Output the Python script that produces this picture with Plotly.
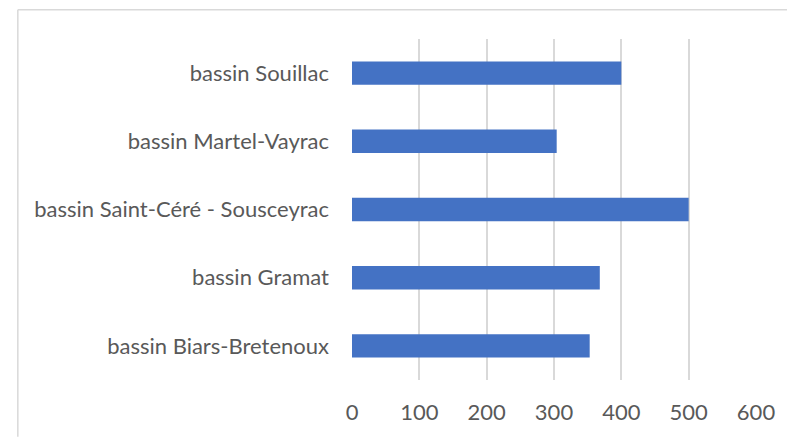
import plotly.graph_objects as go

# Catégories (de bas en haut) et effectifs par bassin
bassins = [
    "bassin Biars-Bretenoux",
    "bassin Gramat",
    "bassin Saint-Céré - Sousceyrac",
    "bassin Martel-Vayrac",
    "bassin Souillac",
]
valeurs = [353, 368, 500, 304, 400]
x_ticks = [0, 100, 200, 300, 400, 500, 600]

W, H = 787, 437
ML, MR, MT, MB = 352, 30, 39, 55

fig = go.Figure(
    go.Bar(
        x=valeurs,
        y=bassins,
        orientation="h",
        marker=dict(color="#4472C4", line=dict(width=0)),
        hoverinfo="x+y",
    )
)

font_family = "Lato, 'Open Sans', sans-serif"

fig.update_layout(
    width=W,
    height=H,
    margin=dict(l=ML, r=MR, t=MT, b=MB, pad=0),
    paper_bgcolor="white",
    plot_bgcolor="white",
    bargap=0.657,
    showlegend=False,
    font=dict(family=font_family, size=22, color="#595959"),
    xaxis=dict(
        range=[0, 600],
        tickvals=x_ticks,
        ticktext=[str(v) for v in x_ticks],
        showgrid=True,
        gridcolor="#d9d9d9",
        gridwidth=1.5,
        zeroline=False,
        showline=False,
        ticks="",
        ticklabelstandoff=17,
        fixedrange=True,
    ),
    yaxis=dict(
        showgrid=False,
        zeroline=False,
        showline=False,
        ticks="",
        ticklabelstandoff=22,
        fixedrange=True,
    ),
)

# Cadre du graphique (bords haut et gauche visibles)
pw = W - ML - MR
ph = H - MT - MB
x_left = (17 - ML) / pw
y_top = (H - MB - 9.5) / ph
y_bottom = (H - MB - H - 2) / ph
x_right = (W + 2 - ML) / pw
fig.add_shape(type="line", xref="paper", yref="paper",
              x0=x_left, x1=x_right, y0=y_top, y1=y_top,
              line=dict(color="#d9d9d9", width=1.5))
fig.add_shape(type="line", xref="paper", yref="paper",
              x0=x_left, x1=x_left, y0=y_bottom, y1=y_top,
              line=dict(color="#d9d9d9", width=1.5))

fig.write_html("out.html", config={"displayModeBar": False})
